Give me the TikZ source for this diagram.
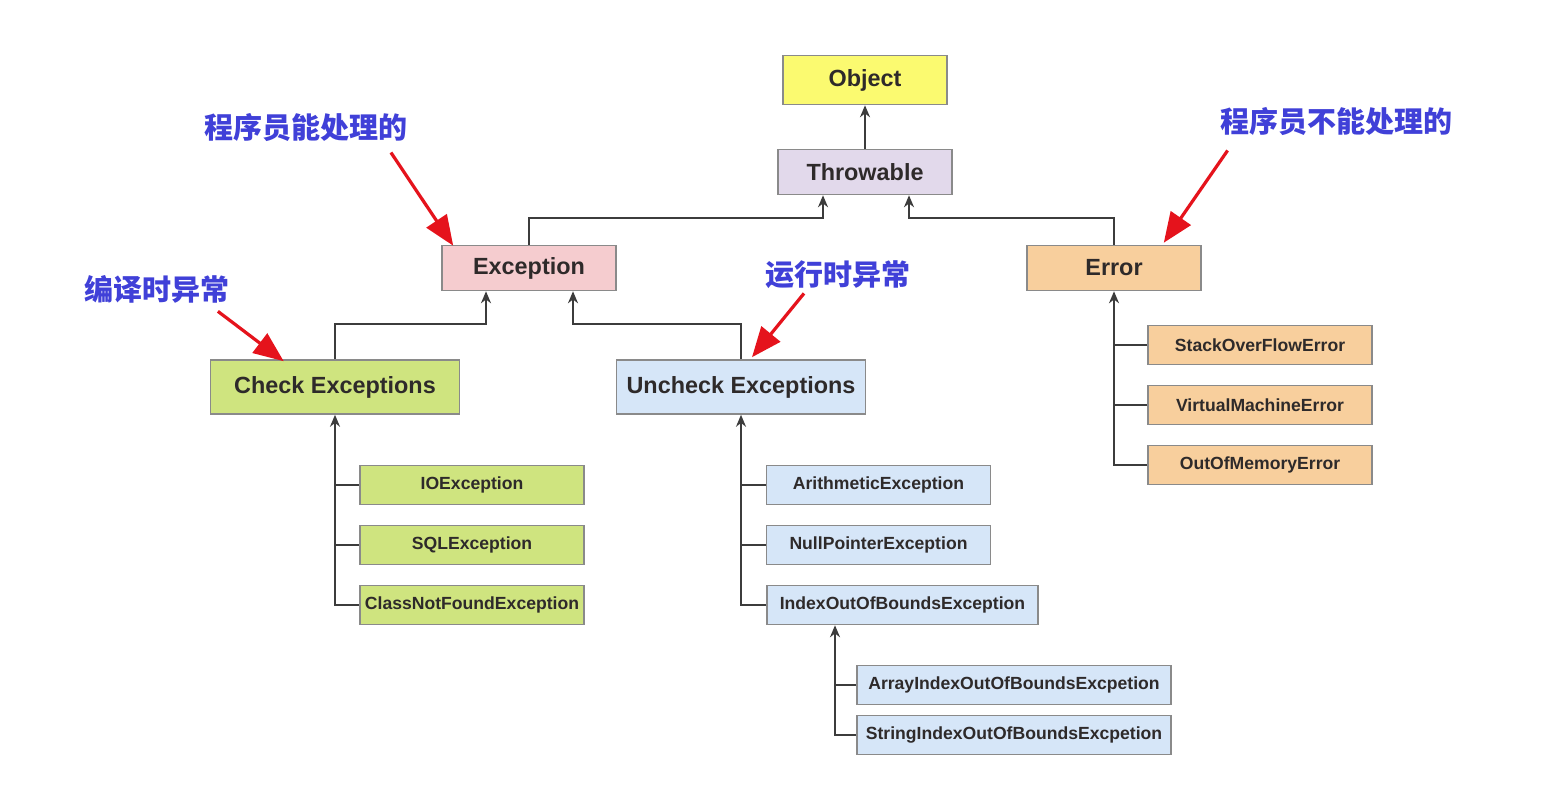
\documentclass[tikz,border=0pt]{standalone}
\usepackage{fontspec}
\setmainfont{Liberation Sans}
\newfontfamily\cjk{Noto Sans CJK SC}
\usetikzlibrary{arrows.meta,positioning,calc}
\definecolor{objYellow}{HTML}{FBFA70}
\definecolor{thrLilac}{HTML}{E2D9EB}
\definecolor{excPink}{HTML}{F5CCCF}
\definecolor{errTan}{HTML}{F8CF9D}
\definecolor{chkGreen}{HTML}{CFE47F}
\definecolor{uncBlue}{HTML}{D6E6F8}
\definecolor{boxGray}{HTML}{8A8A8A}
\definecolor{lineGray}{HTML}{3C3C3C}
\definecolor{txtDark}{HTML}{2E2A2A}
\definecolor{noteBlue}{HTML}{4040D8}
\definecolor{noteRed}{HTML}{E5131C}

\begin{document}
\begin{tikzpicture}[x=0.5pt, y=-0.5pt, >={Stealth[length=6pt,width=5pt]},
  box/.style={draw=boxGray,line width=0.8pt,inner sep=0pt,text=txtDark},
  top/.style={box,minimum width=87pt,minimum height=22.5pt,font=\bfseries\fontsize{11.7}{14}\selectfont},
  mid/.style={box,minimum width=124.5pt,minimum height=27pt,font=\bfseries\fontsize{11.7}{14}\selectfont},
  leaf/.style={box,minimum width=112pt,minimum height=19.5pt,font=\bfseries\fontsize{8.8}{11}\selectfont},
  conn/.style={draw=lineGray,line width=1pt},
  note/.style={text=noteBlue,font=\cjk\bfseries\fontsize{14.5}{16}\selectfont,inner sep=0pt},
  hint/.style={draw=noteRed,line width=1.6pt,-{Triangle[length=15pt,width=12pt]}}]
\useasboundingbox[fill=white] (0,0) rectangle (1542,806);
% --- top of the tree ---
\node[top,fill=objYellow,minimum width=82pt,minimum height=24.5pt] (obj) at (865,80) {Object};
\node[top,fill=thrLilac] (thr) at (865,172) {Throwable};
\node[top,fill=excPink] (exc) at (529,268) {Exception};
\node[top,fill=errTan] (err) at (1114,268) {Error};
\node[mid,fill=chkGreen] (chk) at (335,387) {Check Exceptions};
\node[mid,fill=uncBlue] (unc) at (741,387) {Uncheck Exceptions};
\draw[conn,->] (thr) -- (obj);
\draw[conn,->] (exc.north) -- ++(0,-27) -| ([xshift=-21pt]thr.south);
\draw[conn,->] (err.north) -- ++(0,-27) -| ([xshift=22pt]thr.south);
\draw[conn,->] (chk.north) -- ++(0,-35) -| ([xshift=-21.5pt]exc.south);
\draw[conn,->] (unc.north) -- ++(0,-35) -| ([xshift=22pt]exc.south);
% --- checked ---
\node[leaf,fill=chkGreen] (io) at (472,485) {IOException};
\node[leaf,fill=chkGreen] (sql) at (472,545) {SQLException};
\node[leaf,fill=chkGreen] (cnf) at (472,605) {ClassNotFoundException};
\draw[conn,->] (cnf.west) -| (chk.south);
\draw[conn] (io.west) -- (io.west -| chk.south);
\draw[conn] (sql.west) -- (sql.west -| chk.south);
% --- unchecked ---
\node[leaf,fill=uncBlue] (arith) at (878.5,485) {ArithmeticException};
\node[leaf,fill=uncBlue] (npe) at (878.5,545) {NullPointerException};
\node[leaf,fill=uncBlue,minimum width=135.5pt] (ioob) at (902.5,605) {IndexOutOfBoundsException};
\draw[conn,->] (ioob.west) -| (unc.south);
\draw[conn] (arith.west) -- (arith.west -| unc.south);
\draw[conn] (npe.west) -- (npe.west -| unc.south);
\node[leaf,fill=uncBlue,minimum width=157pt] (aioob) at (1014,685) {ArrayIndexOutOfBoundsExcpetion};
\node[leaf,fill=uncBlue,minimum width=157pt] (sioob) at (1014,735) {StringIndexOutOfBoundsExcpetion};
\coordinate (ix) at ([xshift=-33.75pt]ioob.south);
\draw[conn,->] (sioob.west) -| (ix);
\draw[conn] (aioob.west) -- (aioob.west -| ix);
% --- errors ---
\node[leaf,fill=errTan] (soe) at (1260,345) {StackOverFlowError};
\node[leaf,fill=errTan] (vme) at (1260,405) {VirtualMachineError};
\node[leaf,fill=errTan] (oom) at (1260,465) {OutOfMemoryError};
\draw[conn,->] (oom.west) -| (err.south);
\draw[conn] (soe.west) -- (soe.west -| err.south);
\draw[conn] (vme.west) -- (vme.west -| err.south);
% --- notes ---
\node[note] (canDo) at (306,128) {程序员能处理的};
\node[note] (cantDo) at (1336,122) {程序员不能处理的};
\node[note] (compile) at (157,289) {编译时异常};
\node[note] (runtime) at (838,275) {运行时异常};
\draw[hint] ([xshift=-8.5pt,yshift=-5pt]canDo.south east) -- ([xshift=6pt,yshift=-0.5pt]exc.north west);
\draw[hint] ([xshift=4pt,yshift=-7pt]cantDo.south west) -- ([xshift=-19pt,yshift=1pt]err.north east);
\draw[hint] ([xshift=-6pt,yshift=-4pt]compile.south east) -- ([xshift=37pt,yshift=-1pt]chk.north west);
\draw[hint] ([xshift=-17pt,yshift=-2pt]runtime.south) -- ([xshift=5.5pt,yshift=1pt]unc.north);
\end{tikzpicture}
\end{document}
